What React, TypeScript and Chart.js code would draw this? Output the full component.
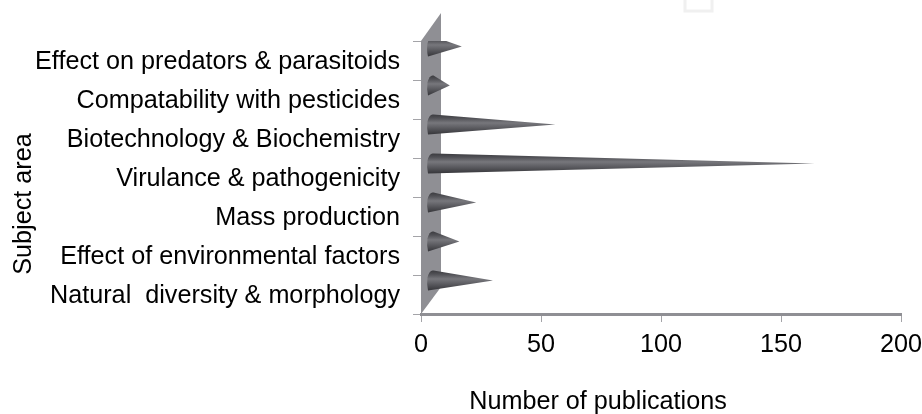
import React, { useEffect, useRef } from "react";
import { Chart, BarController, BarElement, CategoryScale, LinearScale } from "chart.js";

const categories = [
  "Effect on predators & parasitoids",
  "Compatability with pesticides",
  "Biotechnology & Biochemistry",
  "Virulance & pathogenicity",
  "Mass production",
  "Effect of environmental factors",
  "Natural  diversity & morphology",
];
const publications = [17, 12, 56, 164, 23, 16, 30];
const xTicks = [0, 50, 100, 150, 200];
const xTitle = "Number of publications";
const yTitle = "Subject area";

const FONT = "'Liberation Sans', Arial, sans-serif";
const SIZE = 25.2;
const DEPTH_X = 20;
const DEPTH_Y = 27;
const LIFT = 14;

class ConeElement extends BarElement {
  static id = "coneElement";
  draw(ctx: CanvasRenderingContext2D) {
    const { x, y, base } = this as any;
    const cy = y - LIFT;
    const r = 10;
    const g = ctx.createLinearGradient(0, cy - r, 0, cy + r);
    g.addColorStop(0, "#3c3c40");
    g.addColorStop(0.18, "#505055");
    g.addColorStop(0.42, "#77777c");
    g.addColorStop(0.62, "#616166");
    g.addColorStop(1, "#36363a");
    ctx.save();
    ctx.beginPath();
    ctx.moveTo(x, cy);
    ctx.lineTo(base + 12, cy - r);
    ctx.quadraticCurveTo(base + 8, cy - r - 1, base + 6, cy - 3);
    ctx.quadraticCurveTo(base + 5, cy + 4, base + 6.5, cy + r);
    ctx.lineTo(x, cy);
    ctx.closePath();
    ctx.fillStyle = g;
    ctx.fill();
    ctx.restore();
  }
}

class ConeController extends BarController {
  static id = "cone";
  static defaults = { ...(BarController as any).defaults, dataElementType: "coneElement" };
  static overrides = (BarController as any).overrides;
}

Chart.register(ConeController, ConeElement, BarElement, BarController, CategoryScale, LinearScale);

const wallPlugin = {
  id: "wall",
  beforeDatasetsDraw(chart: any) {
    const { ctx, chartArea: a } = chart;
    ctx.save();
    ctx.fillStyle = "#8f8f94";
    ctx.beginPath();
    ctx.moveTo(a.left, a.bottom);
    ctx.lineTo(a.left, a.top);
    ctx.lineTo(a.left + DEPTH_X, a.top - DEPTH_Y - 1);
    ctx.lineTo(a.left + DEPTH_X, a.bottom - DEPTH_Y);
    ctx.closePath();
    ctx.fill();
    ctx.strokeStyle = "#f0f0f0";
    ctx.lineWidth = 3;
    ctx.strokeRect(685, -4, 27, 15);
    ctx.restore();
  },
  afterDraw(chart: any) {
    const { ctx } = chart;
    ctx.save();
    ctx.fillStyle = "#000";
    ctx.font = `${SIZE}px ${FONT}`;
    ctx.textAlign = "center";
    ctx.textBaseline = "middle";
    ctx.fillText(xTitle, 598, 402);
    ctx.translate(24, 204);
    ctx.rotate(-Math.PI / 2);
    ctx.fillText(yTitle, 0, 0);
    ctx.restore();
  },
};

// Nudge tick labels down a little to sit where the reference has them.
const nudgeLabels = (s: any, dy: number) => {
  if (s.__nudged) return;
  s.__nudged = true;
  const orig = s._computeLabelItems.bind(s);
  s._computeLabelItems = (area: any) =>
    orig(area).map((it: any) => ({
      ...it,
      options: { ...it.options, translation: [it.options.translation[0], it.options.translation[1] + dy] },
    }));
};

export default function App() {
  const ref = useRef<HTMLCanvasElement>(null);
  useEffect(() => {
    const chart = new Chart(ref.current as HTMLCanvasElement, {
      type: "cone" as any,
      data: {
        labels: categories,
        datasets: [{ data: publications, backgroundColor: "#55555a" }],
      },
      plugins: [wallPlugin],
      options: {
        indexAxis: "y",
        animation: false,
        responsive: false,
        layout: { padding: { left: 0, top: 41, right: 21, bottom: 0 } },
        plugins: { legend: { display: false }, tooltip: { enabled: false } },
        scales: {
          x: {
            type: "linear",
            min: 0,
            max: 200,
            afterBuildTicks: (s: any) => { s.ticks = xTicks.map((value) => ({ value })); },
            afterFit: (s: any) => { s.height = 100; s.paddingRight = 0; s.paddingLeft = 0; nudgeLabels(s, 3); },
            grid: { drawOnChartArea: false, drawTicks: true, tickLength: 8, color: "#a4a4a8", tickColor: "#a4a4a8" },
            border: { color: "#8f8f94", width: 3 },
            ticks: { color: "#000", font: { family: FONT, size: SIZE }, padding: 5, maxRotation: 0 },
          },
          y: {
            type: "category",
            offset: true,
            afterFit: (s: any) => { s.width = 421; s.paddingTop = 0; s.paddingBottom = 0; nudgeLabels(s, 2); },
            grid: { drawOnChartArea: false, offset: true, tickLength: 8, color: "#a4a4a8", tickColor: "#a4a4a8" },
            border: { color: "#8f8f94", width: 1 },
            ticks: { color: "#000", font: { family: FONT, size: SIZE }, padding: 13, autoSkip: false },
          },
        },
      },
    } as any);
    return () => chart.destroy();
  }, []);
  return (
    <div style={{ position: "absolute", left: 0, top: 0, width: 922, height: 414, background: "#fff" }}>
      <canvas ref={ref} width={922} height={414} style={{ display: "block" }} />
    </div>
  );
}
